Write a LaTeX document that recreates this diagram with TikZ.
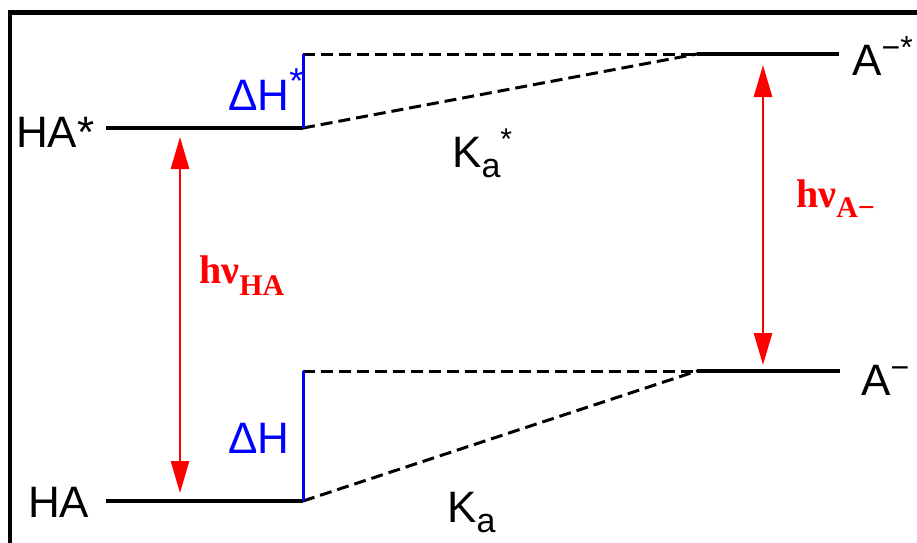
\documentclass[tikz,border=0pt]{standalone}
\usepackage{fontspec}
\setmainfont{Liberation Sans}
\newfontfamily\serifb{Liberation Serif}
\usetikzlibrary{arrows.meta}
\begin{document}
\begin{tikzpicture}[x=1pt,y=-1pt,
  level/.style={line width=3.5pt},
  dashline/.style={line width=3pt, dash pattern=on 12pt off 6pt},
  dHline/.style={blue, line width=3pt},
  photon/.style={red, line width=2.6pt, {Triangle[length=32pt,width=18pt]}-{Triangle[length=32pt,width=18pt]}},
  lab/.style={inner sep=0pt, anchor=base west, font=\fontsize{44}{50}\selectfont},
  hv/.style={inner sep=0pt, anchor=base west, text=red, font=\serifb\bfseries\fontsize{40}{44}\selectfont}]
\clip (0,0) rectangle (917,542);
\fill[white] (0,0) rectangle (917,542);
% frame
\coordinate (fb) at (10,580);
\coordinate (ftl) at (10,12.5);
\coordinate (fr) at (960,12.5);
\draw[line width=4.5pt] (fb) -- (ftl) -- (fr);
% levels
\coordinate (HAs-l) at (106,128); \coordinate (HAs-r) at (303,128);
\coordinate (dHs-t) at (303,54);
\coordinate (As-l) at (697,54); \coordinate (As-r) at (839,54);
\coordinate (HA-l) at (106,501); \coordinate (HA-r) at (303,501);
\coordinate (dH-t) at (303,371);
\coordinate (A-l) at (697,371); \coordinate (A-r) at (840,371);
\draw[dashline] (dHs-t) -- (As-l);
\draw[dashline] (HAs-r) -- (As-l);
\draw[dashline] (dH-t) -- (A-l);
\draw[dashline] (HA-r) -- (A-l);
\draw[level] (HAs-l) -- (HAs-r);
\draw[level] (As-l) -- (As-r);
\draw[level] (HA-l) -- (HA-r);
\draw[level] (A-l) -- (A-r);
\draw[dHline] (HAs-r) -- (dHs-t);
\draw[dHline] (HA-r) -- (dH-t);
% photon arrows
\coordinate (p1a) at (180,137); \coordinate (p1b) at (180,493);
\coordinate (p2a) at (763,65); \coordinate (p2b) at (763,365);
\draw[photon] (p1a) -- (p1b);
\draw[photon] (p2a) -- (p2b);
% labels
\node[lab] (HAslab) at (16,147) {HA*};
\node[lab] (HAlab) at (28,517) {HA};
\node[lab, text=blue] (dHslab) at (228,110) {ΔH\raisebox{17pt}{\fontsize{36}{36}\selectfont *}};
\node[lab, text=blue] (dHlab) at (228,453) {ΔH};
\node[lab] (Kas) at (452,167) {K\raisebox{-10pt}{\fontsize{34}{34}\selectfont a}\raisebox{18pt}{\fontsize{30}{30}\selectfont *}};
\node[lab] (Ka) at (447,522) {K\raisebox{-10pt}{\fontsize{34}{34}\selectfont a}};
\node[lab] (Aslab) at (852,75) {A\raisebox{17pt}{\fontsize{32}{32}\selectfont −*}};
\node[lab] (Alab) at (861,395) {A\raisebox{17pt}{\fontsize{32}{32}\selectfont −}};
\node[hv] (hvHA) at (199,283) {hν\raisebox{-12pt}{\fontsize{30}{30}\selectfont HA}};
\node[hv] (hvA) at (796,207) {hν\raisebox{-10pt}{\fontsize{30}{30}\selectfont A−}};
\end{tikzpicture}
\end{document}
